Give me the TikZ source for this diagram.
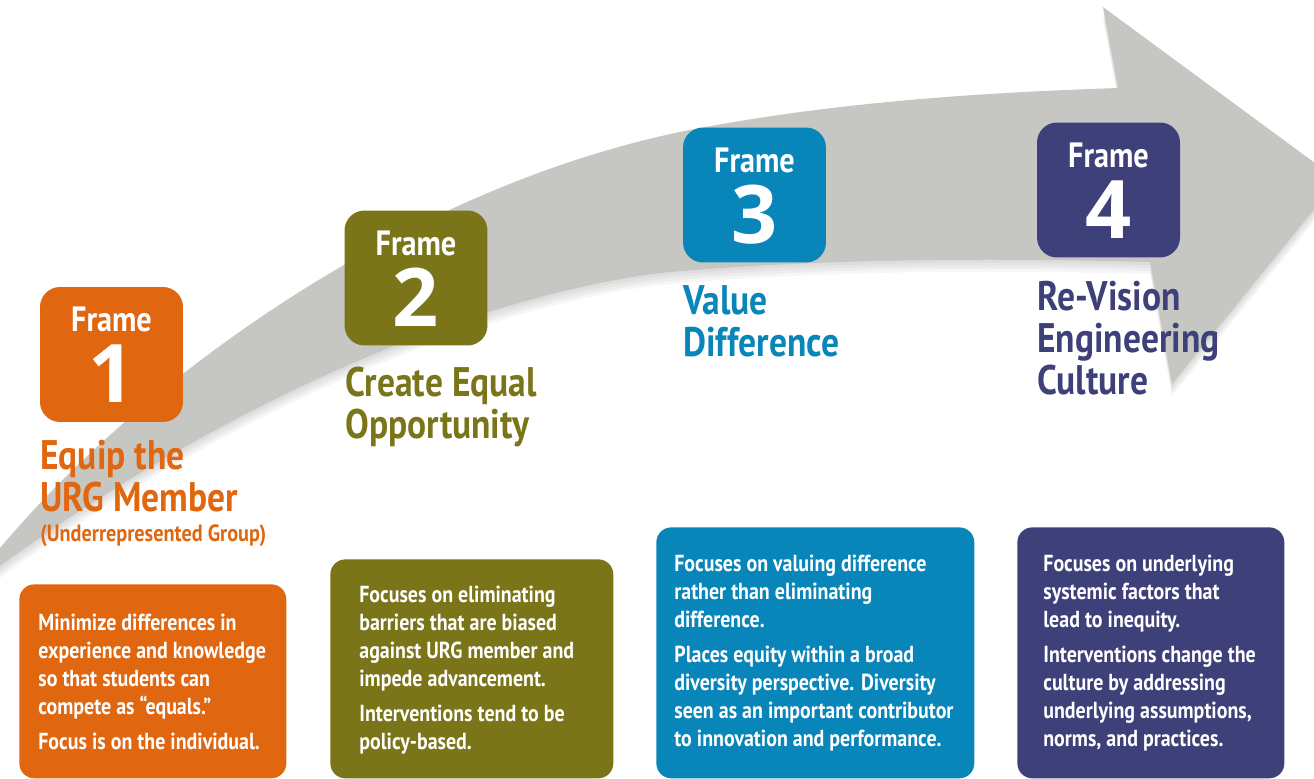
\documentclass[tikz,border=0pt]{standalone}
\usepackage{fontspec}
\setmainfont{PT Sans}[FakeStretch=0.86]
\newfontfamily\digitfont{Open Sans}
\usetikzlibrary{calc}
\definecolor{rust}{HTML}{E06610}
\definecolor{olive}{HTML}{7B7519}
\definecolor{ocean}{HTML}{0885B9}
\definecolor{indigo}{HTML}{3E4079}
\definecolor{arrowgray}{HTML}{C6C7C3}
\tikzset{
  tag/.style={
    minimum width=2.86cm,
    minimum height=2.7cm,
    rounded corners=0.4cm,
    inner sep=0pt
  },
  tagword/.style={
    text=white,
    anchor=base,
    inner sep=0pt,
    font=\bfseries\fontsize{20}{22}\selectfont
  },
  tagnum/.style={
    text=white,
    anchor=base,
    inner sep=0pt,
    font=\digitfont\bfseries\fontsize{46}{50}\selectfont
  },
  heading/.style={
    anchor=north west,
    align=left,
    inner sep=0pt,
    font=\bfseries\fontsize{23.5}{23.9}\selectfont
  },
  subheading/.style={
    anchor=base west,
    inner sep=0pt,
    font=\bfseries\fontsize{13.4}{15}\selectfont
  },
  panel/.style={
    anchor=north west,
    rounded corners=0.3cm,
    inner sep=0pt
  },
  blurb/.style={
    text=white,
    anchor=north west,
    align=left,
    inner sep=0pt,
    font=\bfseries\fontsize{13.2}{15.9}\selectfont
  }
}

\begin{document}
\begin{tikzpicture}[x=0.02cm,y=-0.02cm]
  \useasboundingbox (0,0) rectangle (1314,778);

  % Sweeping arrow behind the frames
  \def\sweep{(0,548) .. controls (150,370) and (420,180) .. (700,128)
    .. controls (850,100) and (1000,92) .. (1118,88)
    -- (1103,7) -- (1338,180) -- (1172,384) -- (1150,262)
    .. controls (1000,258) and (820,258) .. (660,273)
    .. controls (450,300) and (200,420) .. (0,566) -- cycle}
  \foreach \dy in {3,6,9,12}
    \fill[black,opacity=0.035] [shift={(0,\dy)}] \sweep;
  \fill[arrowgray] \sweep;

  % Frame tags
  \node[tag,fill=rust] (f1) at (111.5,354.5) {};
  \node[tagword] (w1) at ($(f1.north)+(0,45)$) {Frame};
  \node[tagnum] (n1) at ($(f1.north)+(0,116)$) {1};

  \node[tag,fill=olive] (f2) at (416,278) {};
  \node[tagword] (w2) at ($(f2.north)+(0,45)$) {Frame};
  \node[tagnum] (n2) at ($(f2.north)+(0,116)$) {2};

  \node[tag,fill=ocean] (f3) at (754.5,195) {};
  \node[tagword] (w3) at ($(f3.north)+(0,45)$) {Frame};
  \node[tagnum] (n3) at ($(f3.north)+(0,116)$) {3};

  \node[tag,fill=indigo] (f4) at (1108.5,190) {};
  \node[tagword] (w4) at ($(f4.north)+(0,45)$) {Frame};
  \node[tagnum] (n4) at ($(f4.north)+(0,116)$) {4};

  % Frame titles
  \node[heading,text=rust] (t1) at (40,440) {Equip the\\URG Member};
  \node[subheading,text=rust] (s1) at (40,541) {(Underrepresented Group)};
  \node[heading,text=olive] (t2) at (345,367) {Create Equal\\Opportunity};
  \node[heading,text=ocean] (t3) at (683,285) {Value\\Difference};
  \node[heading,text=indigo] (t4) at (1037,281) {Re-Vision\\Engineering\\Culture};

  % Description panels
  \node[panel,fill=rust,minimum width=5.34cm,minimum height=3.88cm] (b1) at (19,584) {};
  \node[panel,fill=olive,minimum width=5.66cm,minimum height=4.38cm] (b2) at (330,559) {};
  \node[panel,fill=ocean,minimum width=6.36cm,minimum height=5.02cm] (b3) at (656,527) {};
  \node[panel,fill=indigo,minimum width=5.34cm,minimum height=5.02cm] (b4) at (1017,527) {};

  \node[blurb] (d1) at (38,614)
    {Minimize differences in\\
     experience and knowledge\\
     so that students can\\
     compete as “equals.”\\[4pt]
     Focus is on the individual.};
  \node[blurb] (d2) at (359,586)
    {Focuses on eliminating\\
     barriers that are biased\\
     against URG member and\\
     impede advancement.\\[4pt]
     Interventions tend to be\\
     policy-based.};
  \node[blurb] (d3) at (674,555)
    {Focuses on valuing difference\\
     rather than eliminating\\
     difference.\\[4pt]
     Places equity within a broad\\
     diversity perspective. Diversity\\
     seen as an important contributor\\
     to innovation and performance.};
  \node[blurb] (d4) at (1043,555)
    {Focuses on underlying\\
     systemic factors that\\
     lead to inequity.\\[4pt]
     Interventions change the\\
     culture by addressing\\
     underlying assumptions,\\
     norms, and practices.};
\end{tikzpicture}
\end{document}
